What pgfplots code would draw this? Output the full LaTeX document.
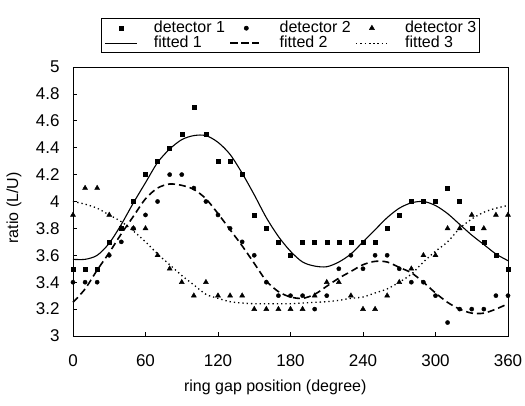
\documentclass[border=0pt]{standalone}
\usepackage{pgfplots}
\pgfplotsset{compat=1.18}
\usepackage{fontspec}
\setmainfont{Liberation Sans}

\pgfplotstableread{
x d1 d2 d3
0 3.5 3.4 3.9
10 3.5 3.4 4.1
20 3.5 3.4 4.1
30 3.7 3.6 3.9
40 3.8 3.7 3.8
50 4.0 3.8 3.8
60 4.2 3.9 3.8
70 4.3 4.0 3.6
80 4.4 4.2 3.5
90 4.5 4.2 3.4
100 4.7 4.1 3.3
110 4.5 4.0 3.4
120 4.3 3.9 3.3
130 4.3 3.8 3.3
140 4.2 3.7 3.3
150 3.9 3.6 3.2
160 3.8 3.4 3.2
170 3.7 3.3 3.2
180 3.6 3.3 3.2
190 3.7 3.3 3.2
200 3.7 3.2 3.3
210 3.7 3.3 3.4
220 3.7 3.5 3.4
230 3.7 3.6 3.3
240 3.7 3.5 3.2
250 3.7 3.6 3.2
260 3.8 3.6 3.3
270 3.9 3.5 3.4
280 4.0 3.4 3.5
290 4.0 3.4 3.6
300 4.0 3.3 3.6
310 4.1 3.1 3.8
320 4.0 3.2 3.8
330 3.8 3.2 3.9
340 3.7 3.2 3.8
350 3.6 3.3 3.9
360 3.5 3.3 3.9
}\measured

\pgfplotstableread{
x f1 f2 f3
0 3.57 3.25 4.00
10 3.57 3.35 3.98
20 3.60 3.49 3.95
30 3.69 3.62 3.90
40 3.83 3.76 3.85
50 3.99 3.89 3.78
60 4.14 4.02 3.70
70 4.29 4.10 3.61
80 4.39 4.13 3.53
90 4.46 4.12 3.45
100 4.49 4.09 3.38
110 4.49 4.02 3.31
120 4.44 3.91 3.28
130 4.35 3.79 3.255
140 4.21 3.67 3.245
150 4.05 3.54 3.24
160 3.88 3.41 3.24
170 3.74 3.33 3.24
180 3.63 3.29 3.24
190 3.55 3.28 3.245
200 3.52 3.31 3.25
210 3.515 3.37 3.255
220 3.55 3.43 3.265
230 3.61 3.48 3.28
240 3.70 3.53 3.29
250 3.79 3.555 3.32
260 3.88 3.55 3.35
270 3.95 3.51 3.40
280 3.99 3.47 3.46
290 4.00 3.40 3.55
300 3.97 3.32 3.63
310 3.91 3.25 3.70
320 3.83 3.20 3.80
330 3.75 3.17 3.87
340 3.68 3.17 3.92
350 3.61 3.20 3.95
360 3.56 3.24 3.97
}\fitted

\begin{document}
\begin{tikzpicture}
\begin{axis}[
    scale only axis,
    width=435pt, height=269pt,
    xmin=0, xmax=360, ymin=3, ymax=5,
    xtick={0,60,...,360},
    ytick={3,3.2,3.4,3.6,3.8,4,4.2,4.4,4.6,4.8,5},
    tick pos=left, tick align=inside, major tick length=4pt,
    tick style={black, line width=0.7pt},
    axis line style={line width=0.8pt},
    clip=false,
    /pgf/number format/assume math mode=true,
    ticklabel style={font=\fontsize{17}{20}\selectfont},
    xticklabel style={yshift=-15pt},
    yticklabel style={xshift=-10pt},
    xlabel={ring gap position (degree)},
    ylabel={ratio (L/U)},
    label style={font=\fontsize{16}{19}\selectfont},
    x label style={at={(axis description cs:0.465,-0.208)}, anchor=base},
    y label style={at={(axis description cs:-0.126,0.476)}, anchor=base},
    legend columns=3,
    legend cell align=left,
    legend image code/.code={\draw[mark repeat=2,mark phase=2,#1] plot coordinates {(0pt,0pt) (16pt,0pt) (32pt,0pt)};},
    legend style={at={(0.5,1)}, anchor=south, yshift=14pt, draw=black, line width=0.6pt,
        font=\fontsize{16}{16}\selectfont,
        nodes={inner sep=0.5pt, text height=11pt, text depth=3pt},
        /tikz/every even column/.append style={column sep=4pt},
        /tikz/every odd column/.append style={column sep=16pt}},
]
\addplot [only marks, mark=square*, mark size=2pt, black] table [x=x, y=d1] {\measured};
\addlegendentry{detector 1}
\addplot [only marks, mark=*, mark size=2.1pt, black] table [x=x, y=d2] {\measured};
\addlegendentry{detector 2}
\addplot [only marks, mark=triangle*, mark size=2.9pt, black] table [x=x, y=d3] {\measured};
\addlegendentry{detector 3}
\addplot [no marks, smooth, black, line width=1.1pt] table [x=x, y=f1] {\fitted};
\addlegendentry{fitted 1}
\addplot [no marks, smooth, black, line width=1.6pt, dash pattern=on 7pt off 4pt] table [x=x, y=f2] {\fitted};
\addlegendentry{fitted 2}
\addplot [no marks, smooth, black, line width=1.3pt, dash pattern=on 1.3pt off 3pt] table [x=x, y=f3] {\fitted};
\addlegendentry{fitted 3}
\end{axis}
\pgfresetboundingbox
\path (-73pt,-69pt) rectangle (452pt,336pt);
\end{tikzpicture}
\end{document}
